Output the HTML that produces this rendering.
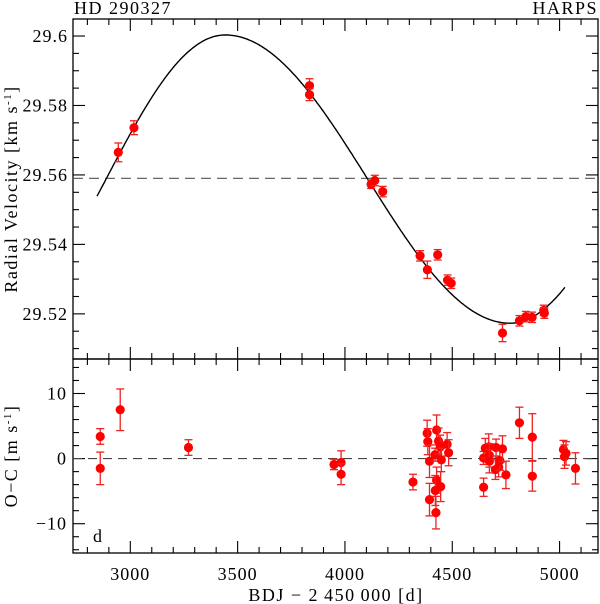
<!DOCTYPE html>
<html><head><meta charset="utf-8"><style>
body{margin:0;background:#fff}
svg{display:block;font-family:"Liberation Serif","DejaVu Serif",serif}
</style></head><body>
<svg id="c" width="600" height="604" viewBox="0 0 600 604"></svg>
<script>
// ---- data ----
const rvTimes=[2944,3017,3835,3835,4122,4139,4176,4350,4384,4432,4478,4495,4734,4813,4843,4872,4926,4929];
const rvValues=[29.5665,29.5736,29.5857,29.5831,29.5573,29.5584,29.5552,29.5367,29.5327,29.5370,29.5297,29.5288,29.5145,29.5180,29.5192,29.5190,29.5210,29.5202];
const rvErrors=[0.0027,0.0020,0.0020,0.0017,0.0012,0.0015,0.0015,0.0015,0.0025,0.0015,0.0015,0.0015,0.0025,0.0015,0.0015,0.0015,0.0015,0.0015];
const ocTimes=[2860,2860,2953,3271,3949,3982,3982,4317,4383,4386,4394,4394,4420,4427,4436,4444,4449,4427,4421,4446,4424,4476,4483,4646,4646,4654,4670,4673,4673,4704,4701,4716,4722,4734,4750,4813,4873,4873,5018,5023,5030,5074];
const ocValues=[3.4,-1.5,7.5,1.7,-0.9,-0.6,-2.4,-3.6,3.9,2.6,-0.4,-6.3,0.6,4.4,2.7,1.8,-0.2,-3.3,-4.9,-4.3,-8.3,2.2,0.9,0.1,-4.4,1.6,1.8,0.5,-0.4,1.7,-1.7,-1.3,-0.3,1.5,-2.5,5.5,3.3,-2.7,1.4,0.3,0.8,-1.5];
const ocErrors=[1.2,2.5,3.2,1.2,0.8,1.8,1.6,1.2,2.0,2.0,2.5,2.5,1.0,2.3,2.0,1.8,1.8,2.0,2.3,2.3,2.5,1.8,2.0,1.0,1.4,1.5,2.0,1.8,1.8,1.3,1.5,1.5,1.5,2.0,2.1,2.4,3.6,2.3,1.4,1.8,1.8,2.4];
const xTicks=[3000,3500,4000,4500,5000];
const rvTicks=[29.52,29.54,29.56,29.58,29.6];
const rvTickLabels=["29.52","29.54","29.56","29.58","29.6"];
const ocTicks=[-10,0,10];
const ocTickLabels=["\u221210","0","10"];
const systemicVelocity=29.559;
// model parameters
const tMax=3442,tMin=4770,vMax=29.6003,vMin=29.5173,riseDur=1110;

// ---- axes ----
const L=73,R=598,T1=19,B1=359,T2=359,B2=553;
const xs=t=>L+(t-2733)/(5179-2733)*(R-L);
const yTop=v=>T1+(29.6049-v)/(29.6049-29.507)*(B1-T1);
const yBot=r=>T2+(15.3-r)/(15.3+14.5)*(B2-T2);
const svg=document.getElementById('c');
const NS='http://www.w3.org/2000/svg';
function mk(tag,attrs,parent){const e=document.createElementNS(NS,tag);for(const k in attrs)e.setAttribute(k,attrs[k]);(parent||svg).appendChild(e);return e;}

let f1=mk('rect',{x:L,y:T1,width:R-L,height:B1-T1,fill:'none',stroke:'#000','stroke-width':1.3});


let f2=mk('rect',{x:L,y:T2,width:R-L,height:B2-T2,fill:'none',stroke:'#000','stroke-width':1.3});



for(let t=2800;t<=5100;t+=100){
  const x=xs(t),maj=(t%500===0),len=maj?12:6;
  for(const [a,b] of [[T1,1],[B1,-1],[T2,1],[B2,-1]]){
    const tk=mk('line',{x1:x,x2:x,y1:a,y2:a+b*len,stroke:'#000','stroke-width':1.1});
    
    
  }
}
const TS={'font-size':18,'letter-spacing':1};
xTicks.forEach(t=>{
  const tx=mk('text',Object.assign({x:xs(t),y:580,'text-anchor':'middle'},TS));
  tx.textContent=t;
  
  
});
for(let i=0;i<=20;i++){
  const v=29.51+i*0.005;const y=yTop(v);if(y<T1||y>B1)continue;
  const maj=(i%4===2);const len=maj?12:6;
  mk('line',{x1:L,x2:L+len,y1:y,y2:y,stroke:'#000','stroke-width':1.1});
  mk('line',{x1:R,x2:R-len,y1:y,y2:y,stroke:'#000','stroke-width':1.1});
}
rvTicks.forEach((v,i)=>{
  const tx=mk('text',Object.assign({x:L-5,y:yTop(v)+6,'text-anchor':'end'},TS));
  tx.textContent=rvTickLabels[i];
  
  
});
for(let r=-14;r<=14;r+=2){
  const y=yBot(r);const len=(r%10===0)?12:6;
  mk('line',{x1:L,x2:L+len,y1:y,y2:y,stroke:'#000','stroke-width':1.1});
  mk('line',{x1:R,x2:R-len,y1:y,y2:y,stroke:'#000','stroke-width':1.1});
}
ocTicks.forEach((r,i)=>{
  const tx=mk('text',Object.assign({x:L-6,y:yBot(r)+6,'text-anchor':'end'},TS));
  tx.textContent=ocTickLabels[i];
  
  
});

let d1=mk('line',{x1:L,x2:R,y1:yTop(systemicVelocity),y2:yTop(systemicVelocity),stroke:'#666','stroke-width':1.3,'stroke-dasharray':'10,6'});


let d2=mk('line',{x1:L,x2:R,y1:yBot(0),y2:yBot(0),stroke:'#444','stroke-width':1.1,'stroke-dasharray':'9,6'});



function model(t){
  const A=vMax-vMin;
  if(t>=tMax&&t<=tMin){const p=(t-tMax)/(tMin-tMax);return vMin+A*(1+Math.cos(Math.PI*p))/2;}
  if(t<tMax){const p=(tMax-t)/riseDur;return vMin+A*(1+Math.cos(Math.PI*p))/2;}
  const p=(t-tMin)/riseDur;return vMin+A*(1-Math.cos(Math.PI*p))/2;
}
let pts=[];for(let t=2845;t<=5026;t+=5)pts.push(xs(t).toFixed(1)+','+yTop(model(t)).toFixed(1));
let c=mk('polyline',{points:pts.join(' '),fill:'none',stroke:'#000','stroke-width':1.4});



function point(x,y,e1,e2,name){
  const g=mk('g',{});
  
  
  mk('line',{x1:x,x2:x,y1:e1,y2:e2,stroke:'#ee2222','stroke-width':1.3},g);
  mk('line',{x1:x-4,x2:x+4,y1:e1,y2:e1,stroke:'#ee2222','stroke-width':1.3},g);
  mk('line',{x1:x-4,x2:x+4,y1:e2,y2:e2,stroke:'#ee2222','stroke-width':1.3},g);
  mk('circle',{cx:x,cy:y,r:4.6,fill:'#ff0000'},g);
}
rvTimes.forEach((t,i)=>point(xs(t),yTop(rvValues[i]),yTop(rvValues[i]+rvErrors[i]),yTop(rvValues[i]-rvErrors[i]),'rv-point'));
ocTimes.forEach((t,i)=>point(xs(t),yBot(ocValues[i]),yBot(ocValues[i]+ocErrors[i]),yBot(ocValues[i]-ocErrors[i]),'residual-point'));

function txt(s,attrs,name){const e=mk('text',Object.assign({'letter-spacing':1.5},attrs));e.textContent=s;return e;}
txt('HD 290327',{x:74,y:14,'font-size':18},'star-title');
txt('HARPS',{x:598,y:14,'font-size':18,'text-anchor':'end'},'instrument-label');
txt('d',{x:93,y:542,'font-size':18},'panel-letter');
txt('BDJ \u2212 2\u2009450\u2009000  [d]',{x:336,y:601,'font-size':18,'text-anchor':'middle'},'x-axis-title');
let yl=mk('text',{x:0,y:0,'font-size':18,'letter-spacing':1.5,'text-anchor':'middle',transform:'translate(17,189) rotate(-90)'});
yl.innerHTML='Radial Velocity  [km s<tspan dy="-6" font-size="11">-1</tspan><tspan dy="6">]</tspan>';


let y2=mk('text',{x:0,y:0,'font-size':18,'letter-spacing':1.5,'text-anchor':'middle',transform:'translate(17,456) rotate(-90)'});
y2.innerHTML='O\u2212C  [m s<tspan dy="-6" font-size="11">-1</tspan><tspan dy="6">]</tspan>';


</script>
</body></html>
